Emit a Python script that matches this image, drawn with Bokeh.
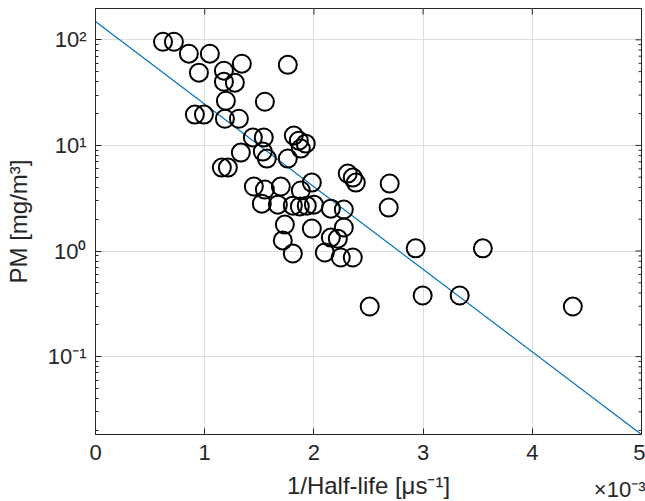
import math
from bokeh.plotting import figure
from bokeh.models import ColumnDataSource, Range1d, FixedTicker, Title
from bokeh.embed import file_html
from bokeh.resources import INLINE

# ---- data (x in units of 1e-3 per microsecond) ----
inv_half_life = [0.618, 0.718, 0.855, 1.047, 0.947, 1.176, 1.340, 1.176, 1.276,
                 1.194, 1.551, 0.910, 0.993, 1.185, 1.313, 1.441, 1.541, 1.761,
                 1.331, 1.532, 1.569, 1.157, 1.212, 1.761, 1.816, 1.862, 1.925,
                 1.880, 1.981, 2.310, 2.356, 2.384, 2.694, 2.685, 1.450, 1.551,
                 1.697, 1.880, 1.523, 1.670, 1.807, 1.871, 1.935, 2.000, 2.155,
                 2.274, 1.734, 1.715, 1.807, 1.981, 2.274, 2.155, 2.219, 2.100,
                 2.246, 2.356, 2.511, 2.932, 2.996, 3.335, 3.547, 4.371]
pm = [95.9, 95.9, 73.9, 73.9, 48.9, 51.0, 59.4, 40.1, 39.3,
      26.5, 25.9, 19.6, 19.6, 17.9, 17.9, 11.9, 11.9, 58.0,
      8.55, 8.74, 7.50, 6.17, 6.17, 7.50, 12.4, 11.1, 10.4,
      9.33, 4.45, 5.41, 4.96, 4.45, 4.35, 2.58, 4.08, 3.82,
      4.08, 3.74, 2.81, 2.75, 2.69, 2.64, 2.69, 2.75, 2.52,
      2.47, 1.78, 1.26, 0.947, 1.63, 1.67, 1.34, 1.31, 0.968,
      0.868, 0.868, 0.298, 1.06, 0.379, 0.379, 1.06, 0.298]

# fitted exponential line (end points)
fit_x = [0.0, 5.0]
fit_y = [149.0, 0.0183]

x_ticks = [0, 1, 2, 3, 4, 5]
y_ticks = [0.1, 1, 10, 100]
y_tick_labels = {0.1: "10\u207b\u00b9", 1: "10\u2070", 10: "10\u00b9", 100: "10\u00b2"}

X_MIN, X_MAX = 0, 5
Y_MIN, Y_MAX = 0.0183, 198

FONT = "Liberation Sans"
AX = "#262626"

p = figure(width=645, height=501, x_range=Range1d(X_MIN, X_MAX),
           y_range=Range1d(Y_MIN, Y_MAX), y_axis_type="log",
           output_backend="svg", toolbar_location=None,
           min_border_left=95, min_border_right=4, min_border_top=8,
           min_border_bottom=67)
p.outline_line_color = AX
p.outline_line_width = 1

minor_y = [m * 10.0 ** e for e in range(-2, 3) for m in range(2, 10)
           if Y_MIN < m * 10.0 ** e < Y_MAX]

def style(ax):
    ax.axis_line_color = AX
    ax.major_tick_line_color = AX
    ax.minor_tick_line_color = AX
    ax.major_tick_in = 6
    ax.major_tick_out = 0
    ax.minor_tick_in = 3
    ax.minor_tick_out = 0
    ax.major_label_text_color = AX
    ax.major_label_text_font = FONT
    ax.axis_label_text_font = FONT
    ax.axis_label_text_font_style = "normal"
    ax.axis_label_text_color = AX

xa = p.xaxis[0]
style(xa)
xa.ticker = FixedTicker(ticks=x_ticks, minor_ticks=[])
xa.major_label_text_font_size = "22px"
xa.major_label_standoff = 10
xa.axis_label = "1/Half-life [\u03bcs\u207b\u00b9]"
xa.axis_label_text_font_size = "24px"
xa.axis_label_standoff = 9

ya = p.yaxis[0]
style(ya)
ya.ticker = FixedTicker(ticks=y_ticks, minor_ticks=minor_y)
ya.major_label_overrides = y_tick_labels
ya.major_label_text_font_size = "22px"
ya.major_label_standoff = 9
ya.axis_label = "PM [mg/m\u00b3]"
ya.axis_label_text_font_size = "24px"
ya.axis_label_standoff = 13

# inward ticks on the top and right edges (markers clipped by the frame)
p.scatter(x_ticks, [Y_MAX] * len(x_ticks), marker="dash", angle=math.pi / 2,
          size=12, line_color=AX, line_width=1)
p.scatter([X_MAX] * len(y_ticks), y_ticks, marker="dash", size=12,
          line_color=AX, line_width=1)
p.scatter([X_MAX] * len(minor_y), minor_y, marker="dash", size=6,
          line_color=AX, line_width=1)

p.xgrid.ticker = FixedTicker(ticks=x_ticks, minor_ticks=[])
p.ygrid.ticker = FixedTicker(ticks=y_ticks, minor_ticks=[])
p.grid.grid_line_color = "#dedede"
p.grid.grid_line_width = 1

src = ColumnDataSource(dict(x=inv_half_life, y=pm))
p.line(fit_x, fit_y, line_color="#0072BD", line_width=1.2)
p.scatter("x", "y", source=src, marker="circle", size=18,
          fill_color=None, line_color="black", line_width=2)

# x-axis exponent multiplier, bottom right
p.add_layout(Title(text="\u00d710\u207b\u00b3", align="right",
                   vertical_align="top", standoff=-50, offset=-4,
                   text_font=FONT, text_font_size="22px",
                   text_font_style="normal", text_color=AX), "below")

open("out.html", "w").write(file_html(p, INLINE))
